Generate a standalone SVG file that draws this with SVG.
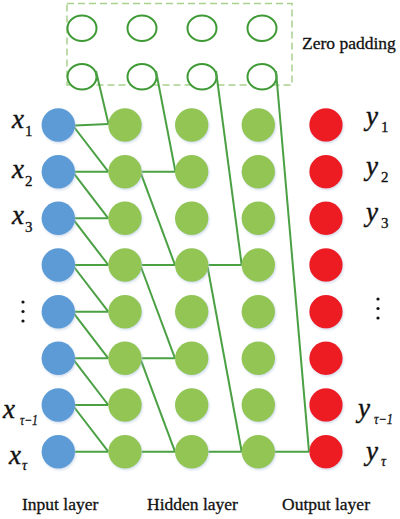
<svg xmlns="http://www.w3.org/2000/svg" width="400" height="519" viewBox="0 0 400 519">
  <defs>
    <filter id="sh" x="-30%" y="-30%" width="160%" height="160%">
      <feDropShadow dx="1" dy="1.5" stdDeviation="1" flood-color="#9fb8d8" flood-opacity="0.45"/>
    </filter>
  </defs>
  <style>
    .in { fill: #5b9bd5; filter: url(#sh); }
    .hid { fill: #92c553; filter: url(#sh); }
    .out { fill: #ec1c24; filter: url(#sh); }
    .pad { fill: #ffffff; stroke: #3f9a36; stroke-width: 2; }
    .box { fill: none; stroke: #a9d18e; stroke-width: 1.5; stroke-dasharray: 7 4; }
    .conn line { stroke: #4aa043; stroke-width: 2; }
    text { font-family: 'Liberation Serif', 'Times New Roman', serif; fill: #111; stroke: #111; stroke-width: 0.3; }
    .lbl { font-size: 17.5px; }
    .v { font-style: italic; font-size: 27px; stroke-width: 0.4; }
    .s { font-size: 15px; }
    .st { font-style: italic; font-size: 14px; }
    .dot { fill: #111; }
  </style>

  <g id="zero-padding">
    <rect class="box" x="67" y="3.5" width="225" height="81.5"/>
    <ellipse class="pad" cx="82" cy="28.3" rx="14.5" ry="12.8"/>
    <ellipse class="pad" cx="142" cy="28.3" rx="14.5" ry="12.8"/>
    <ellipse class="pad" cx="202" cy="28.3" rx="14.5" ry="12.8"/>
    <ellipse class="pad" cx="262" cy="28.3" rx="14.5" ry="12.8"/>
    <ellipse class="pad" cx="82" cy="76.7" rx="14.5" ry="12.8"/>
    <ellipse class="pad" cx="142" cy="76.7" rx="14.5" ry="12.8"/>
    <ellipse class="pad" cx="202" cy="76.7" rx="14.5" ry="12.8"/>
    <ellipse class="pad" cx="262" cy="76.7" rx="14.5" ry="12.8"/>
    <text class="lbl" x="302" y="48.5">Zero padding</text>
  </g>

  <g id="connectors" class="conn">
    <line x1="96" y1="71" x2="108.5" y2="124"/>
    <line x1="156" y1="71" x2="175.3" y2="171"/>
    <line x1="216" y1="71" x2="241.7" y2="265"/>
    <line x1="276" y1="71" x2="309" y2="451.7"/>
    <line x1="75" y1="125.5" x2="108.5" y2="124"/>
    <line x1="75" y1="171.7" x2="108.3" y2="171.7"/>
    <line x1="75" y1="218.3" x2="108.3" y2="218.3"/>
    <line x1="75" y1="265" x2="108.3" y2="265"/>
    <line x1="75" y1="311.7" x2="108.3" y2="311.7"/>
    <line x1="75" y1="358.3" x2="108.3" y2="358.3"/>
    <line x1="75" y1="405" x2="108.3" y2="405"/>
    <line x1="75" y1="451.7" x2="108.3" y2="451.7"/>
    <line x1="74" y1="127" x2="108.3" y2="171.7"/>
    <line x1="74" y1="173.7" x2="108.3" y2="218.3"/>
    <line x1="74" y1="220.3" x2="108.3" y2="265"/>
    <line x1="74" y1="267" x2="108.3" y2="311.7"/>
    <line x1="74" y1="313.7" x2="108.3" y2="358.3"/>
    <line x1="74" y1="360.3" x2="108.3" y2="405"/>
    <line x1="74" y1="407" x2="108.3" y2="451.7"/>
    <line x1="141.7" y1="171.7" x2="175" y2="171.7"/>
    <line x1="141.7" y1="265" x2="175" y2="265"/>
    <line x1="141.7" y1="358.3" x2="175" y2="358.3"/>
    <line x1="141.7" y1="451.7" x2="175" y2="451.7"/>
    <line x1="141" y1="173.7" x2="175" y2="265"/>
    <line x1="141" y1="267" x2="175" y2="358.3"/>
    <line x1="141" y1="360.3" x2="175" y2="451.7"/>
    <line x1="208.3" y1="265" x2="241.7" y2="265"/>
    <line x1="208.3" y1="451.7" x2="241.7" y2="451.7"/>
    <line x1="207.6" y1="267" x2="241.7" y2="451.7"/>
    <line x1="275" y1="451.7" x2="309" y2="451.7"/>
  </g>

  <g id="input-layer">
    <circle class="in" cx="58.3" cy="125" r="16.7"/>
    <circle class="in" cx="58.3" cy="171.7" r="16.7"/>
    <circle class="in" cx="58.3" cy="218.3" r="16.7"/>
    <circle class="in" cx="58.3" cy="265" r="16.7"/>
    <circle class="in" cx="58.3" cy="311.7" r="16.7"/>
    <circle class="in" cx="58.3" cy="358.3" r="16.7"/>
    <circle class="in" cx="58.3" cy="405" r="16.7"/>
    <circle class="in" cx="58.3" cy="451.7" r="16.7"/>
  </g>

  <g id="hidden-layer-1">
    <circle class="hid" cx="125" cy="125" r="16.7"/>
    <circle class="hid" cx="125" cy="171.7" r="16.7"/>
    <circle class="hid" cx="125" cy="218.3" r="16.7"/>
    <circle class="hid" cx="125" cy="265" r="16.7"/>
    <circle class="hid" cx="125" cy="311.7" r="16.7"/>
    <circle class="hid" cx="125" cy="358.3" r="16.7"/>
    <circle class="hid" cx="125" cy="405" r="16.7"/>
    <circle class="hid" cx="125" cy="451.7" r="16.7"/>
  </g>

  <g id="hidden-layer-2">
    <circle class="hid" cx="191.7" cy="125" r="16.7"/>
    <circle class="hid" cx="191.7" cy="171.7" r="16.7"/>
    <circle class="hid" cx="191.7" cy="218.3" r="16.7"/>
    <circle class="hid" cx="191.7" cy="265" r="16.7"/>
    <circle class="hid" cx="191.7" cy="311.7" r="16.7"/>
    <circle class="hid" cx="191.7" cy="358.3" r="16.7"/>
    <circle class="hid" cx="191.7" cy="405" r="16.7"/>
    <circle class="hid" cx="191.7" cy="451.7" r="16.7"/>
  </g>

  <g id="hidden-layer-3">
    <circle class="hid" cx="258.3" cy="125" r="16.7"/>
    <circle class="hid" cx="258.3" cy="171.7" r="16.7"/>
    <circle class="hid" cx="258.3" cy="218.3" r="16.7"/>
    <circle class="hid" cx="258.3" cy="265" r="16.7"/>
    <circle class="hid" cx="258.3" cy="311.7" r="16.7"/>
    <circle class="hid" cx="258.3" cy="358.3" r="16.7"/>
    <circle class="hid" cx="258.3" cy="405" r="16.7"/>
    <circle class="hid" cx="258.3" cy="451.7" r="16.7"/>
  </g>

  <g id="output-layer">
    <circle class="out" cx="326" cy="125" r="16.7"/>
    <circle class="out" cx="326" cy="171.7" r="16.7"/>
    <circle class="out" cx="326" cy="218.3" r="16.7"/>
    <circle class="out" cx="326" cy="265" r="16.7"/>
    <circle class="out" cx="326" cy="311.7" r="16.7"/>
    <circle class="out" cx="326" cy="358.3" r="16.7"/>
    <circle class="out" cx="326" cy="405" r="16.7"/>
    <circle class="out" cx="326" cy="451.7" r="16.7"/>
  </g>

  <g id="input-labels">
    <text class="v" x="12" y="128">x</text><text class="s" x="25" y="136">1</text>
    <text class="v" x="12" y="178">x</text><text class="s" x="25" y="186">2</text>
    <text class="v" x="12" y="224">x</text><text class="s" x="25" y="232">3</text>
    <circle class="dot" cx="23" cy="302" r="1.6"/>
    <circle class="dot" cx="23" cy="311.5" r="1.6"/>
    <circle class="dot" cx="23" cy="321" r="1.6"/>
    <text class="v" x="3" y="418">x</text><text class="st" x="20" y="425" textLength="18" lengthAdjust="spacingAndGlyphs">τ−1</text>
    <text class="v" x="9" y="464">x</text><text class="st" x="22" y="470">τ</text>
  </g>

  <g id="output-labels">
    <text class="v" x="366" y="125">y</text><text class="s" x="381" y="132">1</text>
    <text class="v" x="366" y="175">y</text><text class="s" x="381" y="182">2</text>
    <text class="v" x="366" y="221">y</text><text class="s" x="381" y="228">3</text>
    <circle class="dot" cx="378" cy="299" r="1.6"/>
    <circle class="dot" cx="378" cy="308.5" r="1.6"/>
    <circle class="dot" cx="378" cy="318" r="1.6"/>
    <text class="v" x="358" y="417">y</text><text class="st" x="374" y="424" textLength="19" lengthAdjust="spacingAndGlyphs">τ−1</text>
    <text class="v" x="366" y="460">y</text><text class="st" x="381" y="466">τ</text>
  </g>

  <g id="layer-names">
    <text class="lbl" x="22" y="510">Input layer</text>
    <text class="lbl" x="147" y="510">Hidden layer</text>
    <text class="lbl" x="282" y="510">Output layer</text>
  </g>
</svg>
